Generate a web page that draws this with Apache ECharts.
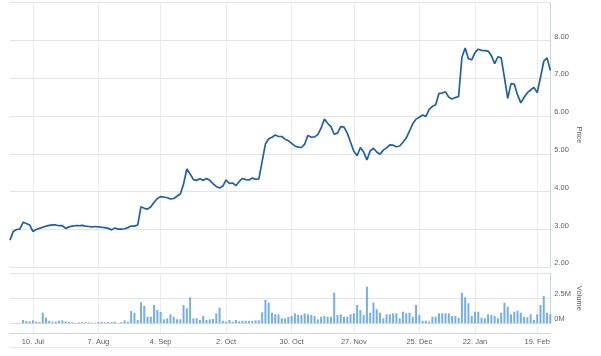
<!DOCTYPE html>
<html><head><meta charset="utf-8">
<script src="https://cdn.jsdelivr.net/npm/echarts@6/dist/echarts.min.js"></script>
<style>html,body{margin:0;padding:0;background:#fff}#c{width:601px;height:356px}</style>
</head><body><div id="c"></div>
<script>
const dates = [
'2017-06-28','2017-06-29','2017-06-30',
'2017-07-03','2017-07-05','2017-07-06','2017-07-07',
'2017-07-10','2017-07-11','2017-07-12','2017-07-13','2017-07-14',
'2017-07-17','2017-07-18','2017-07-19','2017-07-20','2017-07-21',
'2017-07-24','2017-07-25','2017-07-26','2017-07-27','2017-07-28',
'2017-07-31','2017-08-01','2017-08-02','2017-08-03','2017-08-04',
'2017-08-07','2017-08-08','2017-08-09','2017-08-10','2017-08-11',
'2017-08-14','2017-08-15','2017-08-16','2017-08-17','2017-08-18',
'2017-08-21','2017-08-22','2017-08-23','2017-08-24','2017-08-25',
'2017-08-28','2017-08-29','2017-08-30','2017-08-31','2017-09-01',
'2017-09-05','2017-09-06','2017-09-07','2017-09-08',
'2017-09-11','2017-09-12','2017-09-13','2017-09-14','2017-09-15',
'2017-09-18','2017-09-19','2017-09-20','2017-09-21','2017-09-22',
'2017-09-25','2017-09-26','2017-09-27','2017-09-28','2017-09-29',
'2017-10-02','2017-10-03','2017-10-04','2017-10-05','2017-10-06',
'2017-10-09','2017-10-10','2017-10-11','2017-10-12','2017-10-13',
'2017-10-16','2017-10-17','2017-10-18','2017-10-19','2017-10-20',
'2017-10-23','2017-10-24','2017-10-25','2017-10-26','2017-10-27',
'2017-10-30','2017-10-31','2017-11-01','2017-11-02','2017-11-03',
'2017-11-06','2017-11-07','2017-11-08','2017-11-09','2017-11-10',
'2017-11-13','2017-11-14','2017-11-15','2017-11-16','2017-11-17',
'2017-11-20','2017-11-21','2017-11-22','2017-11-24',
'2017-11-27','2017-11-28','2017-11-29','2017-11-30','2017-12-01',
'2017-12-04','2017-12-05','2017-12-06','2017-12-07','2017-12-08',
'2017-12-11','2017-12-12','2017-12-13','2017-12-14','2017-12-15',
'2017-12-18','2017-12-19','2017-12-20','2017-12-21','2017-12-22',
'2017-12-26','2017-12-27','2017-12-28','2017-12-29',
'2018-01-02','2018-01-03','2018-01-04','2018-01-05',
'2018-01-08','2018-01-09','2018-01-10','2018-01-11','2018-01-12',
'2018-01-16','2018-01-17','2018-01-18','2018-01-19',
'2018-01-22','2018-01-23','2018-01-24','2018-01-25','2018-01-26',
'2018-01-29','2018-01-30','2018-01-31','2018-02-01','2018-02-02',
'2018-02-05','2018-02-06','2018-02-07','2018-02-08','2018-02-09',
'2018-02-12','2018-02-13','2018-02-14','2018-02-15','2018-02-16',
'2018-02-20','2018-02-21','2018-02-22','2018-02-23'
];

const price = [
2.72,2.95,3.00,3.01,3.19,3.16,3.12,2.95,3.00,3.03,
3.06,3.09,3.11,3.12,3.12,3.10,3.10,3.03,3.07,3.09,
3.10,3.10,3.11,3.09,3.08,3.07,3.08,3.07,3.06,3.05,
3.03,2.99,3.04,3.01,3.01,3.02,3.05,3.09,3.09,3.12,
3.60,3.56,3.54,3.60,3.72,3.82,3.87,3.86,3.84,3.81,
3.82,3.88,3.94,4.20,4.60,4.47,4.32,4.30,4.34,4.30,
4.35,4.30,4.21,4.14,4.10,4.15,4.31,4.22,4.23,4.16,
4.27,4.35,4.32,4.31,4.36,4.33,4.34,4.80,5.26,5.40,
5.44,5.50,5.46,5.46,5.39,5.35,5.28,5.21,5.18,5.17,
5.26,5.49,5.44,5.45,5.51,5.68,5.92,5.81,5.72,5.52,
5.55,5.72,5.71,5.55,5.31,5.07,4.95,5.17,5.05,4.84,
5.08,5.15,5.05,4.99,5.10,5.16,5.24,5.23,5.19,5.21,
5.31,5.42,5.60,5.80,5.92,5.97,6.03,5.99,6.18,6.26,
6.30,6.60,6.61,6.64,6.50,6.45,6.49,6.52,7.55,7.80,
7.52,7.49,7.68,7.77,7.74,7.73,7.72,7.60,7.39,7.57,
7.54,7.02,6.47,6.86,6.85,6.56,6.35,6.50,6.62,6.69,
6.76,6.62,7.02,7.45,7.54,7.21
];

// volume in millions
const volume = [
0.02,0.02,0.02,0.02,0.33,0.23,0.20,0.30,0.17,0.12,
1.06,0.56,0.26,0.17,0.17,0.26,0.30,0.20,0.15,0.10,
0.05,0.10,0.12,0.10,0.10,0.06,0.06,0.15,0.15,0.10,
0.12,0.12,0.15,0.04,0.12,0.30,0.17,1.23,1.06,0.33,
2.10,1.73,0.66,0.66,1.83,1.33,1.13,0.40,0.50,0.90,
0.66,0.40,0.40,1.83,1.50,2.60,0.50,0.50,0.33,0.73,
0.33,0.40,0.43,1.00,1.57,0.26,0.17,0.33,0.17,0.33,
0.20,0.25,0.25,0.25,0.26,0.30,0.30,1.10,2.33,2.06,
1.06,0.90,0.90,0.50,0.50,0.66,0.73,1.00,0.85,0.83,
1.00,0.90,0.83,0.73,0.40,0.66,0.73,0.66,0.66,3.06,
0.83,0.90,0.66,0.66,0.90,1.00,1.83,1.33,0.83,3.66,
1.06,2.06,1.40,1.06,0.50,0.90,0.90,1.00,1.00,0.50,
1.16,1.00,1.06,0.66,1.83,0.83,0.26,0.26,0.17,0.66,
0.66,1.00,1.00,1.00,1.00,0.73,0.73,0.56,3.06,2.60,
2.00,0.73,1.16,1.16,0.56,0.50,0.90,0.83,0.73,0.50,
1.06,2.06,1.66,0.90,1.16,1.26,1.06,0.66,0.60,0.90,
0.33,0.90,1.83,2.73,1.06,0.90
];

const tickDates = ['2017-07-10','2017-08-07','2017-09-01','2017-10-02','2017-10-30','2017-11-27','2017-12-26','2018-01-22','2018-02-16'];
const tickLabels = ['10. Jul','7. Aug','4. Sep','2. Oct','30. Oct','27. Nov','25. Dec','22. Jan','19. Feb'];

const tickIdx = tickDates.map(d => dates.indexOf(d));
const isTick = (i) => tickIdx.indexOf(i) >= 0;
const labelFor = (i) => { const k = tickIdx.indexOf(i); return k >= 0 ? tickLabels[k] : ''; };

const chart = echarts.init(document.getElementById('c'), null, {renderer: 'canvas'});
const L = 10, R = 50.7;
const FONT = 'Liberation Sans, Arial, sans-serif';
const TXT = '#606060';
const vSplit = {show: true, interval: (i) => isTick(i), lineStyle: {color: '#ebebeb', width: 1}};
const hSplit = {show: true, lineStyle: {color: '#e3e3e3', width: 1}};
const axisBlue = {show: true, lineStyle: {color: '#c5d5ea', width: 1}};

const option = {
  animation: false,
  backgroundColor: '#ffffff',
  grid: [
    {left: L, right: R, top: 2.7, height: 264.6},
    {left: L, right: R, top: 273.3, height: 50},
    {left: L, right: R, top: 323.3, height: 10}
  ],
  xAxis: [
    {gridIndex: 0, type: 'category', data: dates, boundaryGap: false,
     axisLine: {show: false}, axisTick: {show: false}, axisLabel: {show: false}, splitLine: vSplit},
    {gridIndex: 1, type: 'category', data: dates, boundaryGap: false,
     axisLine: {show: false}, axisTick: {show: false}, axisLabel: {show: false}, splitLine: vSplit},
    {gridIndex: 2, type: 'category', data: dates, boundaryGap: false,
     axisLine: {show: true, lineStyle: {color: '#ccd6eb', width: 1}}, axisTick: {show: false},
     axisLabel: {show: true, interval: (i) => isTick(i), formatter: (v, i) => labelFor(i),
                 fontSize: 7.5, color: TXT, fontFamily: FONT, margin: 5},
     splitLine: vSplit}
  ],
  yAxis: [
    {gridIndex: 0, type: 'value', position: 'right', min: 2, max: 9, interval: 1,
     axisLine: axisBlue, axisTick: {show: false}, splitLine: hSplit,
     axisLabel: {formatter: (v) => v === 9 ? '' : v.toFixed(2), fontSize: 7.5, color: TXT,
                 fontFamily: FONT, margin: 4, verticalAlign: 'bottom'},
     name: 'Price', nameLocation: 'middle', nameRotate: -90, nameGap: 25, nameMoveOverlap: false,
     nameTextStyle: {fontSize: 7.5, color: TXT, fontFamily: FONT}},
    {gridIndex: 1, type: 'value', position: 'right', min: 0, max: 5, interval: 2.5,
     axisLine: axisBlue, axisTick: {show: false}, splitLine: hSplit,
     axisLabel: {formatter: (v) => v === 5 ? '' : (v + 'M'), fontSize: 7.5, color: TXT,
                 fontFamily: FONT, margin: 4, verticalAlign: 'bottom'},
     name: 'Volume', nameLocation: 'middle', nameRotate: -90, nameGap: 25, nameMoveOverlap: false,
     nameTextStyle: {fontSize: 7.5, color: TXT, fontFamily: FONT}},
    {gridIndex: 2, type: 'value', show: false, min: 0, max: 1}
  ],
  graphic: [
    {type: 'line', shape: {x1: L, y1: 347.5, x2: 550.3, y2: 347.5}, style: {stroke: '#e2e5ea', lineWidth: 1}, silent: true}
  ],
  series: [
    {type: 'line', xAxisIndex: 0, yAxisIndex: 0, data: price, showSymbol: false, symbol: 'none',
     lineStyle: {color: '#1f5fad', width: 1.7}, itemStyle: {color: '#1f5fad'}},
    {type: 'bar', xAxisIndex: 1, yAxisIndex: 1, data: volume, barWidth: 2,
     itemStyle: {color: '#74afea'}}
  ]
};
chart.setOption(option);
</script>
</body></html>
